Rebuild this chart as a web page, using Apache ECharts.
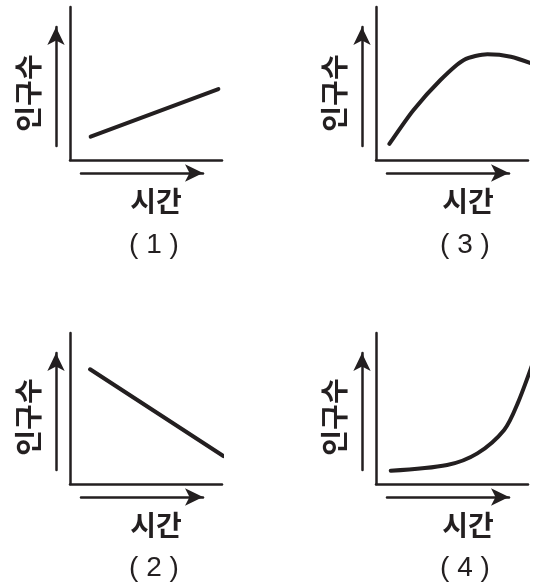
<!DOCTYPE html>
<html>
<head>
<meta charset="utf-8">
<script src="https://cdn.jsdelivr.net/npm/echarts@6/dist/echarts.min.js"></script>
<style>
  html, body { margin: 0; padding: 0; background: #fff; }
  #chart { width: 536px; height: 582px; }
</style>
</head>
<body>
<div id="chart"></div>
<script>
// 축 이름, 그림 번호
const xLabel = '시간';
const yLabel = '인구수';
const panelNames = ['( 1 )', '( 2 )', '( 3 )', '( 4 )'];

// 각 그래프의 점 [시간, 인구수] (축 범위 0~100)
const line1 = [[13.6, 15.2], [97.6, 46.4]];
const line2 = [[13.2, 76], [100.9, 18.5]];
const line3 = [[8.8, 10.5], [24.7, 32.7], [42.4, 52.3], [57.8, 65.4], [73.3, 69.1], [88.7, 67.5], [104, 62.5]];
const line4 = [[9.7, 8.8], [46.8, 12.6], [66.7, 20.3], [84.3, 35.8], [93.2, 53.4], [105, 85.4]];

const ink = '#231f20';

// 패널 배치 (px)
const panels = [
  { left: 70,  top: 7,   h: 153, data: line1, smooth: false, tx: 156, ty: 201, nx: 154, ny: 245, lx: 28,  ly: 93 },
  { left: 70,  top: 333, h: 151, data: line2, smooth: false, tx: 156, ty: 525, nx: 154, ny: 568, lx: 28,  ly: 417 },
  { left: 376, top: 7,   h: 153, data: line3, smooth: 0.25,  tx: 468, ty: 201, nx: 465, ny: 245, lx: 334, ly: 93 },
  { left: 376, top: 333, h: 151, data: line4, smooth: 0.3,   tx: 468, ty: 525, nx: 465, ny: 568, lx: 334, ly: 417 },
];

const W = 152;
const arrowSize = [13, 18];

const grid = [], xAxis = [], yAxis = [], series = [], graphic = [];

const plainAxis = (gi) => ({
  type: 'value', gridIndex: gi, min: 0, max: 100,
  axisLine: { show: true, onZero: false, lineStyle: { color: ink, width: 2.5 } },
  axisTick: { show: false }, axisLabel: { show: false }, splitLine: { show: false }
});
const hiddenAxis = (gi) => ({ type: 'value', gridIndex: gi, show: false, min: 0, max: 1 });
const arrowAxis = (gi, pos) => ({
  type: 'value', gridIndex: gi, position: pos, min: 0, max: 1,
  axisLine: { show: true, onZero: false, symbol: ['none', 'arrow'], symbolSize: arrowSize,
    lineStyle: { color: ink, width: 2.5 } },
  axisTick: { show: false }, axisLabel: { show: false }, splitLine: { show: false }
});

panels.forEach((p, i) => {
  const g = i * 3;
  const bottom = p.top + p.h;
  // 본 그래프
  grid.push({ left: p.left, top: p.top, width: W, height: p.h });
  xAxis.push(plainAxis(g));
  yAxis.push(plainAxis(g));
  // 세로 화살표
  grid.push({ left: p.left - 14, top: p.top + 20, width: 1, height: bottom - 14 - (p.top + 20) });
  xAxis.push(hiddenAxis(g + 1));
  yAxis.push(arrowAxis(g + 1, 'left'));
  // 가로 화살표
  grid.push({ left: p.left + 11, top: bottom + 12, width: 122, height: 1 });
  xAxis.push(arrowAxis(g + 2, 'bottom'));
  yAxis.push(hiddenAxis(g + 2));

  series.push({
    type: 'line', xAxisIndex: g, yAxisIndex: g, data: p.data,
    smooth: p.smooth, showSymbol: false, clip: false, silent: true,
    lineStyle: { color: ink, width: 4, cap: 'round' }
  });

  graphic.push({
    type: 'text', x: p.tx, y: p.ty,
    style: { text: xLabel, fill: ink, font: 'bold 28px "Noto Sans CJK KR"', textAlign: 'center', textVerticalAlign: 'middle' }
  });
  graphic.push({
    type: 'text', x: p.nx, y: p.ny,
    style: { text: panelNames[i], fill: ink, font: '28px "Liberation Sans"', textAlign: 'center', textVerticalAlign: 'middle' }
  });
  graphic.push({
    type: 'text', x: p.lx, y: p.ly, rotation: Math.PI / 2,
    style: { text: yLabel, fill: ink, font: 'bold 28px "Noto Sans CJK KR"', textAlign: 'center', textVerticalAlign: 'middle' }
  });
});

const chart = echarts.init(document.getElementById('chart'));
chart.setOption({
  animation: false,
  backgroundColor: '#fff',
  grid, xAxis, yAxis, series, graphic
});
</script>
</body>
</html>
